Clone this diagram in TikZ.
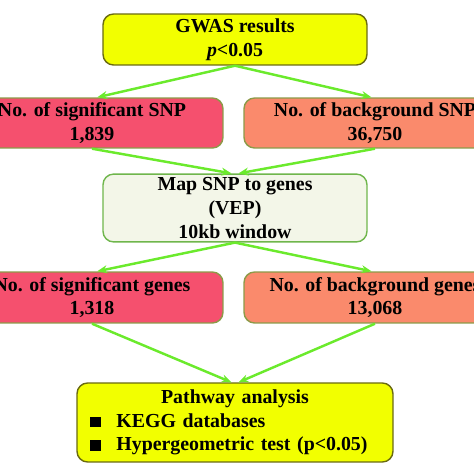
\documentclass[tikz,border=0pt]{standalone}
\usepackage{fontspec}
\setmainfont{Liberation Serif}
\usepackage{tikz}
\usetikzlibrary{positioning,arrows.meta}
\usepackage{xcolor}
\definecolor{gwasyellow}{HTML}{F2FF00}
\definecolor{sigred}{HTML}{F5506E}
\definecolor{bgsalmon}{HTML}{FA8A6C}
\definecolor{mapfill}{HTML}{F3F6E8}
\definecolor{flowgreen}{HTML}{6BEA2C}
\definecolor{oliveedge}{HTML}{6A6A10}
\definecolor{softedge}{HTML}{8C9A48}

\tikzset{
  box/.style={rounded corners=6pt,line width=0.8pt,inner sep=2pt,align=center,
    font=\bfseries\fontsize{11.3}{13.5}\selectfont},
  flow/.style={->,draw=flowgreen,line width=1.4pt},
}

\begin{document}
\begin{tikzpicture}[x=0.02cm,y=-0.02cm,>={Stealth[length=2mm,width=1.6mm]}]
\useasboundingbox (0,0) rectangle (474,474);
\clip (0,0) rectangle (474,474);
\node[box,draw=oliveedge,fill=gwasyellow,minimum width=5.28cm,minimum height=1.02cm] (gwas) at (235,39.5) {GWAS results\\\textit{p}<0.05};
\node[box,draw=softedge,fill=sigred,minimum width=5.24cm,minimum height=1.0cm] (sigsnp) at (92,123) {No. of significant SNP\\1,839};
\node[box,draw=softedge,fill=bgsalmon,minimum width=5.24cm,minimum height=1.0cm] (bgsnp) at (375,123) {No. of background SNP\\36,750};
\node[box,draw=flowgreen!70!black!80,fill=mapfill,minimum width=5.28cm,minimum height=1.32cm] (map) at (235,208) {Map SNP to genes\\(VEP)\\10kb window};
\node[box,draw=softedge,fill=sigred,minimum width=5.24cm,minimum height=1.02cm] (siggene) at (92,297.5) {No. of significant genes\\1,318};
\node[box,draw=softedge,fill=bgsalmon,minimum width=5.24cm,minimum height=1.02cm] (bggene) at (375,297.5) {No. of background genes\\13,068};
\node[box,draw=oliveedge,fill=gwasyellow,text width=5.8cm,inner xsep=0.26cm,minimum height=1.58cm,align=left] (path) at (235,422.5)
  {{\centering Pathway analysis\par}\rule{6pt}{6pt}\hspace{9pt}KEGG databases\par\rule{6pt}{6pt}\hspace{9pt}Hypergeometric test (p<0.05)};
% connectors
\draw[flow] (gwas.south) -- ([xshift=3pt]sigsnp.north);
\draw[flow] (gwas.south) -- ([xshift=-2pt]bgsnp.north);
\draw[flow] (sigsnp.south) -- ([xshift=-2pt]map.north);
\draw[flow] (bgsnp.south) -- ([xshift=2pt]map.north);
\draw[flow] (map.south) -- ([xshift=3pt]siggene.north);
\draw[flow] (map.south) -- ([xshift=-2pt]bggene.north);
\draw[flow] (siggene.south) -- ([xshift=-2pt]path.north);
\draw[flow] (bggene.south) -- ([xshift=2pt]path.north);
\end{tikzpicture}
\end{document}
